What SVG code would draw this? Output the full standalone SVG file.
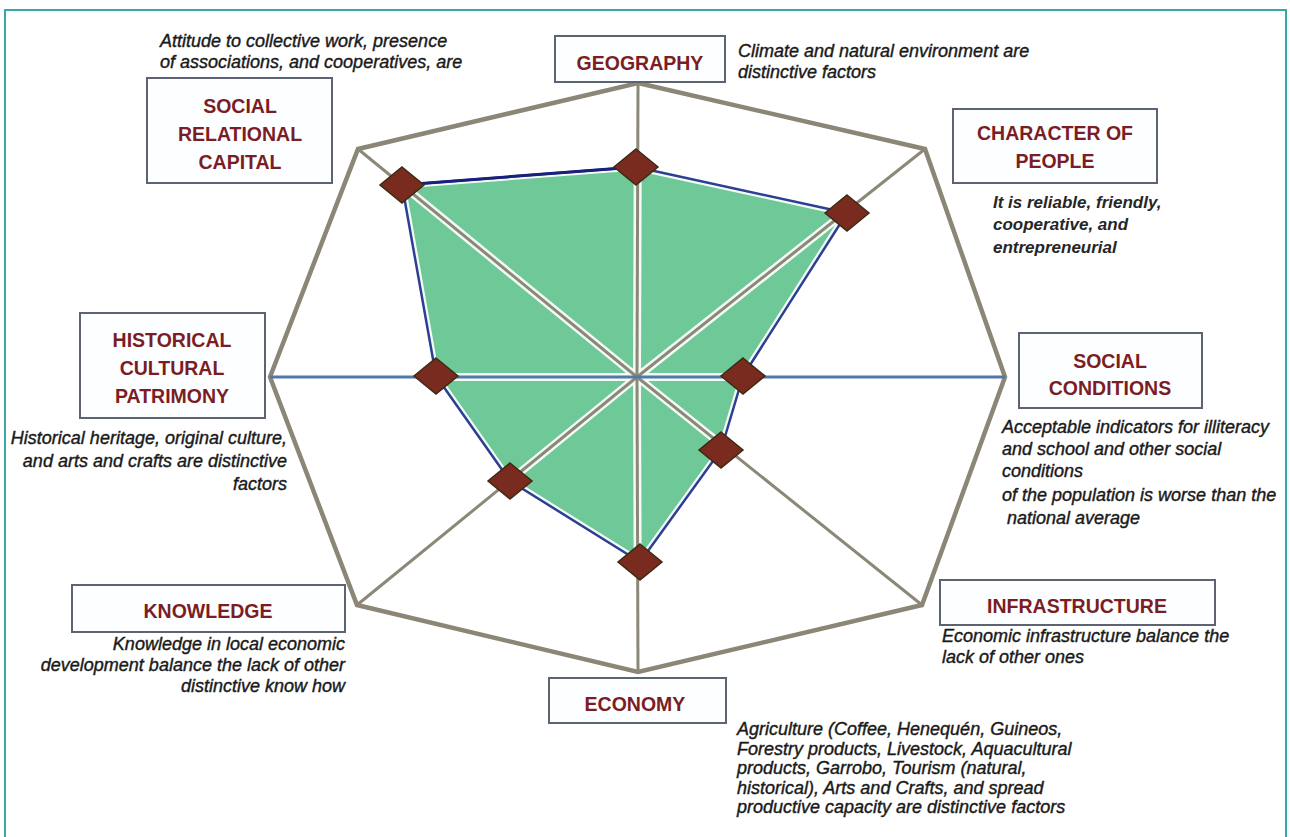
<svg xmlns="http://www.w3.org/2000/svg" width="1290" height="837" viewBox="0 0 1290 837">
  <style>
    .box { fill: #fdfeff; stroke: #5d6372; stroke-width: 2; }
    .lbl { font-family: "Liberation Sans", Arial, sans-serif; font-weight: bold; font-size: 19.5px; fill: #7a1d24; text-anchor: middle; }
    .note { font-family: "Liberation Sans", Arial, sans-serif; font-style: italic; font-size: 18px; fill: #1a1a1a; stroke: #1a1a1a; stroke-width: 0.4; }
    .note-b { font-family: "Liberation Sans", Arial, sans-serif; font-style: italic; font-weight: bold; font-size: 17px; fill: #262626; }
    .end { text-anchor: end; }
    .grid { fill: none; stroke: #8b8676; stroke-width: 4.5; stroke-linejoin: miter; }
    .spoke { stroke: #8b8878; stroke-width: 3; }
    .spoke-h { stroke: #4f79a8; stroke-width: 3; }
    .halo { stroke: #f4fbf7; stroke-width: 8; }
    .dia { fill: #7a2b1f; stroke: #3e2a12; stroke-width: 1.5; }
  </style>
  <defs>
    <path id="dia" d="M0,-18 L22,0 L0,18 L-22,0 Z"/>
    <clipPath id="areaClip">
      <polygon points="636,167 847,213 743,376 721,450 640,562 510,481 436,376 402,185"/>
    </clipPath>
  </defs>

  <!-- frame -->
  <rect x="5" y="10" width="1281" height="840" fill="#ffffff" stroke="#3aa7a7" stroke-width="2"/>

  <!-- radar grid: outer octagon -->
  <polygon class="grid" points="638,83 925,149 1005,377 922,605 638,672 357,605 270,377 358,149"/>

  <!-- spokes from the centre to each axis -->
  <g id="connectors">
    <line class="spoke" x1="637" y1="377" x2="638" y2="83"/>
    <line class="spoke" x1="637" y1="377" x2="925" y2="149"/>
    <line class="spoke" x1="637" y1="377" x2="922" y2="605"/>
    <line class="spoke" x1="637" y1="377" x2="638" y2="672"/>
    <line class="spoke" x1="637" y1="377" x2="357" y2="605"/>
    <line class="spoke" x1="637" y1="377" x2="358" y2="149"/>
    <line class="spoke-h" x1="270" y1="377" x2="1005" y2="377"/>
  </g>

  <!-- scored area -->
  <g id="area">
    <polygon points="636,167 847,213 743,376 721,450 640,562 510,481 436,376 402,185" fill="#6fc897"/>
    <g clip-path="url(#areaClip)">
      <g class="halo">
        <line x1="637" y1="377" x2="638" y2="83"/>
        <line x1="637" y1="377" x2="925" y2="149"/>
        <line x1="637" y1="377" x2="922" y2="605"/>
        <line x1="637" y1="377" x2="638" y2="672"/>
        <line x1="637" y1="377" x2="357" y2="605"/>
        <line x1="637" y1="377" x2="358" y2="149"/>
        <line x1="270" y1="377" x2="1005" y2="377"/>
      </g>
      <line class="spoke" x1="637" y1="377" x2="638" y2="83"/>
      <line class="spoke" x1="637" y1="377" x2="925" y2="149"/>
      <line class="spoke" x1="637" y1="377" x2="922" y2="605"/>
      <line class="spoke" x1="637" y1="377" x2="638" y2="672"/>
      <line class="spoke" x1="637" y1="377" x2="357" y2="605"/>
      <line class="spoke" x1="637" y1="377" x2="358" y2="149"/>
      <line class="spoke-h" x1="270" y1="377" x2="1005" y2="377"/>
      <polygon points="636,167 847,213 743,376 721,450 640,562 510,481 436,376 402,185" fill="none" stroke="#f4fbf7" stroke-width="7"/>
    </g>
    <polygon points="636,167 847,213 743,376 721,450 640,562 510,481 436,376 402,185" fill="none" stroke="#2b3f93" stroke-width="2.5" stroke-linejoin="round"/>
    <polyline points="402,185 636,167" fill="none" stroke="#17207a" stroke-width="3"/>
  </g>

  <!-- score markers -->
  <g id="markers">
    <use href="#dia" class="dia" x="636" y="167"/>
    <use href="#dia" class="dia" x="847" y="213"/>
    <use href="#dia" class="dia" x="743" y="376"/>
    <use href="#dia" class="dia" x="721" y="450"/>
    <use href="#dia" class="dia" x="640" y="562"/>
    <use href="#dia" class="dia" x="510" y="481"/>
    <use href="#dia" class="dia" x="436" y="376"/>
    <use href="#dia" class="dia" x="402" y="185"/>
  </g>

  <!-- axis labels and their notes -->
  <g id="geography">
    <rect class="box" x="555" y="36" width="170" height="46"/>
    <text class="lbl" x="640" y="70">GEOGRAPHY</text>
    <text class="note" x="738" y="57">Climate and natural environment are</text>
    <text class="note" x="738" y="78">distinctive factors</text>
  </g>

  <g id="character-of-people">
    <rect class="box" x="953" y="109" width="204" height="74"/>
    <text class="lbl" x="1055" y="140">CHARACTER OF</text>
    <text class="lbl" x="1055" y="168">PEOPLE</text>
    <text class="note-b" x="993" y="208">It is reliable, friendly,</text>
    <text class="note-b" x="993" y="230">cooperative, and</text>
    <text class="note-b" x="993" y="253">entrepreneurial</text>
  </g>

  <g id="social-conditions">
    <rect class="box" x="1019" y="333" width="183" height="75"/>
    <text class="lbl" x="1110" y="368">SOCIAL</text>
    <text class="lbl" x="1110" y="395">CONDITIONS</text>
    <text class="note" x="1002" y="433">Acceptable indicators for illiteracy</text>
    <text class="note" x="1002" y="455">and school and other social</text>
    <text class="note" x="1002" y="477">conditions</text>
    <text class="note" x="1002" y="501">of the population is worse than the</text>
    <text class="note" x="1007" y="524">national average</text>
  </g>

  <g id="infrastructure">
    <rect class="box" x="940" y="580" width="275" height="45"/>
    <text class="lbl" x="1077" y="613">INFRASTRUCTURE</text>
    <text class="note" x="942" y="642">Economic infrastructure balance the</text>
    <text class="note" x="942" y="663">lack of other ones</text>
  </g>

  <g id="economy">
    <rect class="box" x="549" y="678" width="177" height="45"/>
    <text class="lbl" x="635" y="711">ECONOMY</text>
    <text class="note" x="737" y="735">Agriculture (Coffee, Henequén, Guineos,</text>
    <text class="note" x="737" y="754.5">Forestry products, Livestock, Aquacultural</text>
    <text class="note" x="737" y="774">products, Garrobo, Tourism (natural,</text>
    <text class="note" x="737" y="793.5">historical), Arts and Crafts, and spread</text>
    <text class="note" x="737" y="813">productive capacity are distinctive factors</text>
  </g>

  <g id="knowledge">
    <rect class="box" x="72" y="585" width="273" height="47"/>
    <text class="lbl" x="208" y="618">KNOWLEDGE</text>
    <text class="note end" x="345" y="650">Knowledge in local economic</text>
    <text class="note end" x="345" y="671">development balance the lack of other</text>
    <text class="note end" x="345" y="692">distinctive know how</text>
  </g>

  <g id="historical-cultural-patrimony">
    <rect class="box" x="80" y="313" width="185" height="105"/>
    <text class="lbl" x="172" y="347">HISTORICAL</text>
    <text class="lbl" x="172" y="375">CULTURAL</text>
    <text class="lbl" x="172" y="403">PATRIMONY</text>
    <text class="note end" x="287" y="444">Historical heritage, original culture,</text>
    <text class="note end" x="287" y="467">and arts and crafts are distinctive</text>
    <text class="note end" x="287" y="490">factors</text>
  </g>

  <g id="social-relational-capital">
    <rect class="box" x="147" y="78" width="185" height="105"/>
    <text class="lbl" x="240" y="113">SOCIAL</text>
    <text class="lbl" x="240" y="141">RELATIONAL</text>
    <text class="lbl" x="240" y="169">CAPITAL</text>
    <text class="note" x="160" y="47">Attitude to collective work, presence</text>
    <text class="note" x="160" y="68">of associations, and cooperatives, are</text>
  </g>
</svg>
